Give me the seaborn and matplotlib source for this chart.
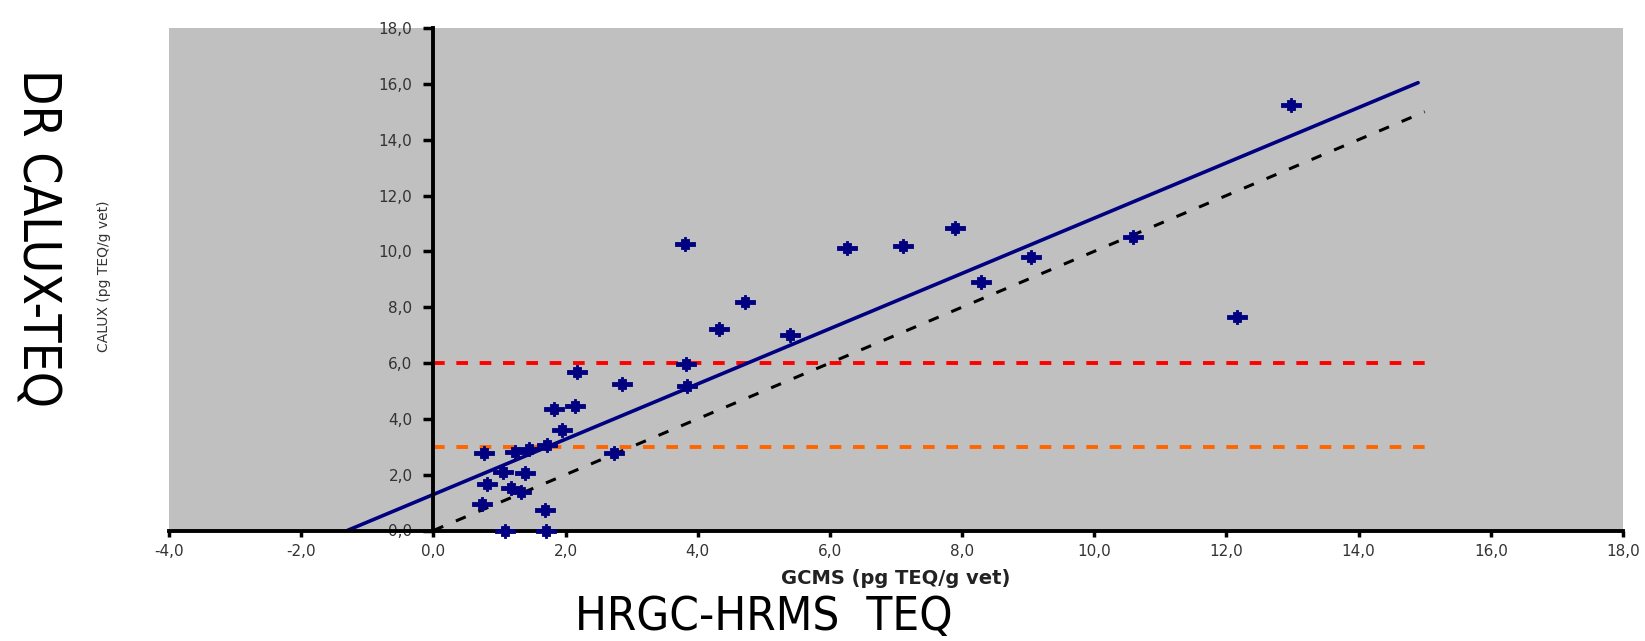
import numpy as np
import pandas as pd
import matplotlib
matplotlib.use("Agg")
import matplotlib.pyplot as plt
from matplotlib.path import Path
from matplotlib.ticker import FixedLocator, FuncFormatter
from matplotlib import font_manager
import seaborn as sns

# GC/MS TEQ vs DR CALUX TEQ per sample (pg TEQ/g vet)
gcms_teq = [2.17, 2.86, 1.82, 2.15, 1.95, 1.72, 0.76, 1.24, 1.44, 2.73,
            1.06, 1.39, 0.81, 1.17, 1.32, 0.73, 1.69, 1.09, 1.71,
            3.80, 4.71, 4.32, 5.39, 3.82, 3.84,
            6.26, 7.10, 7.89, 9.04, 8.29, 10.59, 12.16, 12.97]
calux_teq = [5.68, 5.26, 4.34, 4.45, 3.59, 3.08, 2.77, 2.81, 2.93, 2.77,
             2.09, 2.06, 1.67, 1.53, 1.37, 0.96, 0.74, 0.00, 0.00,
             10.28, 8.19, 7.21, 6.99, 5.98, 5.17,
             10.12, 10.18, 10.84, 9.80, 8.90, 10.52, 7.65, 15.24]

# linear trend (slope, intercept) and its drawn x-extent
trend_slope = 0.99
trend_intercept = 1.29
trend_x = [-1.3, 14.9]

# 1:1 reference line extent
identity_x = [0.0, 15.0]

# action / alert levels
level_upper = 6.0
level_lower = 3.0
level_x = [0.0, 15.15]

x_ticks = [-4, -2, 0, 2, 4, 6, 8, 10, 12, 14, 16, 18]
y_ticks = [0, 2, 4, 6, 8, 10, 12, 14, 16, 18]

NAVY = "#000080"
sns.set_theme(style="white")
plt.rcParams["font.family"] = ["DejaVu Sans"]


def upright(f):
    return f.style == "normal" and f.weight in (400, "normal", "regular", "book")


# condensed upright face for the large titles, if one is installed
narrow = None
cands = [f for f in font_manager.fontManager.ttflist if upright(f)]
for f in cands:
    if f.name == "Liberation Sans Narrow":
        narrow = f.fname
        break
if narrow is None:
    for f in cands:
        if f.stretch in ("condensed", "semi-condensed", 500, 300) or "condensed" in f.fname.lower():
            if "oblique" not in f.fname.lower() and "italic" not in f.fname.lower():
                narrow = f.fname
                break
if narrow:
    side_prop = font_manager.FontProperties(fname=narrow, size=37)
    foot_prop = font_manager.FontProperties(fname=narrow, size=34)
else:
    side_prop = font_manager.FontProperties(family="Liberation Sans", size=34)
    foot_prop = font_manager.FontProperties(family="Liberation Sans", size=32)

fig = plt.figure(figsize=(16.45, 6.41), dpi=100)
ax = fig.add_axes([169 / 1645, 1 - 530.5 / 641, (1623 - 169) / 1645, (530.5 - 28) / 641])
ax.set_facecolor("#C0C0C0")

pts = pd.DataFrame({"gcms": gcms_teq, "calux": calux_teq})
tx = np.array(trend_x)
trend = pd.DataFrame({"x": tx, "y": trend_slope * tx + trend_intercept})
ident = pd.DataFrame({"x": identity_x, "y": identity_x})
up = pd.DataFrame({"x": level_x, "y": [level_upper] * 2})
lo = pd.DataFrame({"x": level_x, "y": [level_lower] * 2})

sns.lineplot(data=up, x="x", y="y", ax=ax, color="#FF0000", lw=2.8,
             zorder=2).lines[-1].set_dashes((3, 3))
sns.lineplot(data=lo, x="x", y="y", ax=ax, color="#FF6600", lw=2.8,
             zorder=2).lines[-1].set_dashes((3, 3))
sns.lineplot(data=ident, x="x", y="y", ax=ax, color="black", lw=2.2,
             zorder=2).lines[-1].set_dashes((3.5, 4.5))
sns.lineplot(data=trend, x="x", y="y", ax=ax, color=NAVY, lw=2.6, zorder=2)

# plus-like marker with a heavy centre
star = Path([(-1, -0.2), (-0.38, -0.2), (-0.38, -0.48), (-0.12, -0.48),
             (-0.12, -0.66), (0.12, -0.66), (0.12, -0.48), (0.38, -0.48),
             (0.38, -0.2), (1, -0.2), (1, 0.2), (0.38, 0.2),
             (0.38, 0.48), (0.12, 0.48), (0.12, 0.66), (-0.12, 0.66),
             (-0.12, 0.48), (-0.38, 0.48), (-0.38, 0.2), (-1, 0.2),
             (-1, -0.2)], closed=True)
sns.scatterplot(data=pts, x="gcms", y="calux", ax=ax, marker=star,
                s=220, color=NAVY, edgecolor=NAVY, linewidth=0.6,
                zorder=4, clip_on=False)

ax.set_xlim(-4, 18)
ax.set_ylim(0, 18)
ax.set_xlabel("")
ax.set_ylabel("")
ax.grid(False)

for s in ("top", "right"):
    ax.spines[s].set_visible(False)
ax.spines["left"].set_position(("data", 0))
for s in ("left", "bottom"):
    ax.spines[s].set_color("black")
    ax.spines[s].set_linewidth(2.8)
    ax.spines[s].set_zorder(3)

fmt = FuncFormatter(lambda v, p: f"{v:.1f}".replace(".", ","))
ax.xaxis.set_major_locator(FixedLocator(x_ticks))
ax.yaxis.set_major_locator(FixedLocator(y_ticks))
ax.xaxis.set_major_formatter(fmt)
ax.yaxis.set_major_formatter(fmt)
ax.tick_params(axis="x", direction="out", length=4, width=2.5, color="black",
               pad=6, labelsize=11, labelcolor="#333333", bottom=True)
ax.tick_params(axis="y", direction="out", length=7, width=2.5, color="black",
               pad=8, labelsize=11, labelcolor="#333333", left=True)

fig.text(896 / 1645, 1 - 578 / 641, "GCMS (pg TEQ/g vet)", ha="center",
         va="center", fontsize=14, fontweight="bold", color="#222222")
fig.text(104 / 1645, 1 - 276 / 641, "CALUX (pg TEQ/g vet)", ha="center",
         va="center", rotation=90, fontsize=10, color="#333333")
fig.text(36 / 1645, 1 - 238 / 641, "DR CALUX-TEQ", ha="center", va="center",
         rotation=270, fontproperties=side_prop, color="black")
fig.text(764 / 1645, 1 / 641, "HRGC-HRMS  TEQ", ha="center",
         va="bottom", fontproperties=foot_prop, color="black")

fig.savefig("out.png", dpi=100, facecolor="white")
